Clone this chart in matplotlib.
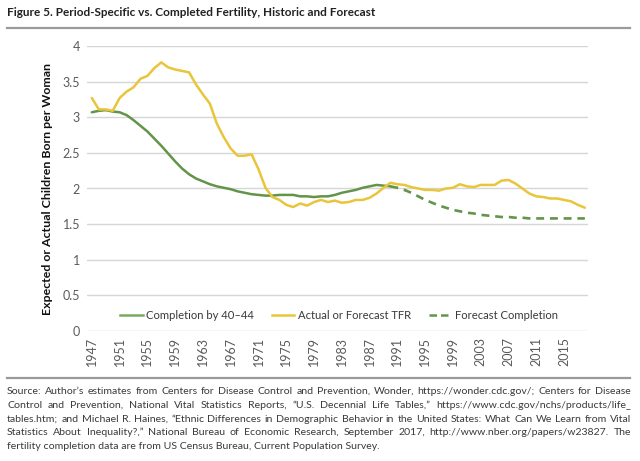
import matplotlib
matplotlib.use("Agg")
import matplotlib.pyplot as plt
from matplotlib.lines import Line2D

# ---------------- data ----------------
years = list(range(1947, 2019))
tfr = [3.27, 3.11, 3.11, 3.09, 3.27, 3.36, 3.42, 3.54, 3.58, 3.69,
       3.77, 3.70, 3.67, 3.65, 3.63, 3.46, 3.32, 3.19, 2.91, 2.72,
       2.56, 2.46, 2.46, 2.48, 2.27, 2.01, 1.88, 1.84, 1.77, 1.74,
       1.79, 1.76, 1.81, 1.84, 1.81, 1.83, 1.80, 1.81, 1.84, 1.84,
       1.87, 1.93, 2.01, 2.08, 2.06, 2.05, 2.02, 2.00, 1.98, 1.98,
       1.97, 2.00, 2.01, 2.06, 2.03, 2.02, 2.05, 2.05, 2.05, 2.11,
       2.12, 2.07, 2.00, 1.93, 1.89, 1.88, 1.86, 1.86, 1.84, 1.82,
       1.77, 1.73]
completion_years = list(range(1947, 1991))
completion = [3.07, 3.09, 3.10, 3.08, 3.07, 3.03, 2.96, 2.88, 2.80, 2.70,
              2.60, 2.49, 2.38, 2.28, 2.20, 2.14, 2.10, 2.06, 2.03, 2.01,
              1.99, 1.96, 1.94, 1.92, 1.91, 1.90, 1.90, 1.91, 1.91, 1.91,
              1.89, 1.89, 1.88, 1.89, 1.89, 1.91, 1.94, 1.96, 1.98, 2.01,
              2.03, 2.05, 2.04, 2.03]
forecast_years = list(range(1990, 2019))
forecast = [2.03, 2.01, 1.98, 1.94, 1.89, 1.84, 1.80, 1.76, 1.73, 1.70,
            1.68, 1.66, 1.65, 1.63, 1.62, 1.61, 1.60, 1.60, 1.59, 1.59,
            1.58, 1.58, 1.58, 1.58, 1.58, 1.58, 1.58, 1.58, 1.58]
xtick_years = list(range(1947, 2016, 4))
yticks = [0, 0.5, 1, 1.5, 2, 2.5, 3, 3.5, 4]
ytick_labels = ["0", "0.5", "1", "1.5", "2", "2.5", "3", "3.5", "4"]

title = "Figure 5. Period-Specific vs. Completed Fertility, Historic and Forecast"
ylabel = "Expected or Actual Children Born per Woman"
legend_labels = ["Completion by 40\u201344", "Actual or Forecast TFR", "Forecast Completion"]
source_lines = [
    "Source: Author\u2019s estimates from Centers for Disease Control and Prevention, Wonder, https://wonder.cdc.gov/; Centers for Disease",
    "Control and Prevention, National Vital Statistics Reports, \u201cU.S. Decennial Life Tables,\u201d https://www.cdc.gov/nchs/products/life_",
    "tables.htm; and Michael R. Haines, \u201cEthnic Differences in Demographic Behavior in the United States: What Can We Learn from Vital",
    "Statistics About Inequality?,\u201d National Bureau of Economic Research, September 2017, http://www.nber.org/papers/w23827. The",
    "fertility completion data are from US Census Bureau, Current Population Survey.",
]

# ---------------- style ----------------
GREEN = "#62944a"
YELLOW = "#e8c53a"
FONT = ["Lato", "DejaVu Sans"]
plt.rcParams["font.family"] = FONT

W, H = 640, 461
fig = plt.figure(figsize=(W / 100, H / 100), dpi=100)
fig.patch.set_facecolor("white")

L, R, T, B = 87, 588, 46, 331
ax = fig.add_axes([L / W, 1 - B / H, (R - L) / W, (B - T) / H])
ax.set_xlim(1946.3, 2018.45)
ax.set_ylim(0, 4)

for s in ax.spines.values():
    s.set_visible(False)
ax.set_yticks(yticks)
ax.set_yticklabels(ytick_labels)
ax.set_xticks(xtick_years)
ax.set_xticklabels([str(y) for y in xtick_years], rotation=90)
ax.tick_params(axis="both", length=0, labelsize=9, labelcolor="#5a5a5a")
ax.tick_params(axis="y", pad=5)
ax.tick_params(axis="x", pad=4)
for yv in yticks:
    ax.axhline(yv, color="#d6d6d6", lw=1.0, zorder=0)

ax.plot(completion_years, completion, color=GREEN, lw=1.8, solid_capstyle="round", zorder=3)
ax.plot(years, tfr, color=YELLOW, lw=1.8, solid_capstyle="round", zorder=4)
ax.plot(forecast_years, forecast, color=GREEN, lw=1.9, ls=(0, (3.0, 2.2)), zorder=3)

ax.set_ylabel(ylabel, fontsize=8.9, fontweight="bold", color="#111111")
ax.yaxis.set_label_coords(-0.068, 0.5)

handles = [
    Line2D([], [], color="#7aab5c", lw=1.8),
    Line2D([], [], color=YELLOW, lw=1.8),
    Line2D([], [], color=GREEN, lw=1.8, ls=(0, (3.0, 1.6))),
]
leg = ax.legend(handles, legend_labels, loc="center", bbox_to_anchor=(0.503, 0.056),
                ncol=3, frameon=False, handlelength=2.0, handletextpad=0.3,
                columnspacing=1.6, borderpad=0,
                prop={"size": 8.1}, labelcolor="#3a3a3a")

# title and rules
fig.text(7 / W, 1 - 13 / H, title, fontsize=8.45, fontweight="bold", color="#222222",
         ha="left", va="center")
fig.add_artist(Line2D([7 / W, 630 / W], [1 - 28 / H, 1 - 28 / H], color="#9a9a9a", lw=1.6))
fig.add_artist(Line2D([7 / W, 630 / W], [1 - 378 / H, 1 - 378 / H], color="#9a9a9a", lw=1.6))

# justified source text
renderer = fig.canvas.get_renderer()
x0, x1 = 7, 631


def measure(s, size):
    t = fig.text(0, 0, s, fontsize=size)
    w = t.get_window_extent(renderer).width
    t.remove()
    return w


base = 8.0
natural = max(measure(l, base) for l in source_lines[:-1])
src_size = base * (x1 - x0) / natural * 0.985
src_kw = dict(fontsize=src_size, color="#3a3a3a", va="center", ha="left")
ys = [391, 405, 419, 432.5, 446]
for i, (line, yy) in enumerate(zip(source_lines, ys)):
    if i == len(source_lines) - 1:
        fig.text(x0 / W, 1 - yy / H, line, **src_kw)
        continue
    words = line.split(" ")
    widths = [measure(w, src_size) for w in words]
    gap = (x1 - x0 - sum(widths)) / (len(words) - 1)
    x = x0
    for w, wd in zip(words, widths):
        fig.text(x / W, 1 - yy / H, w, **src_kw)
        x += wd + gap

fig.savefig("out.png", dpi=100, facecolor="white")
